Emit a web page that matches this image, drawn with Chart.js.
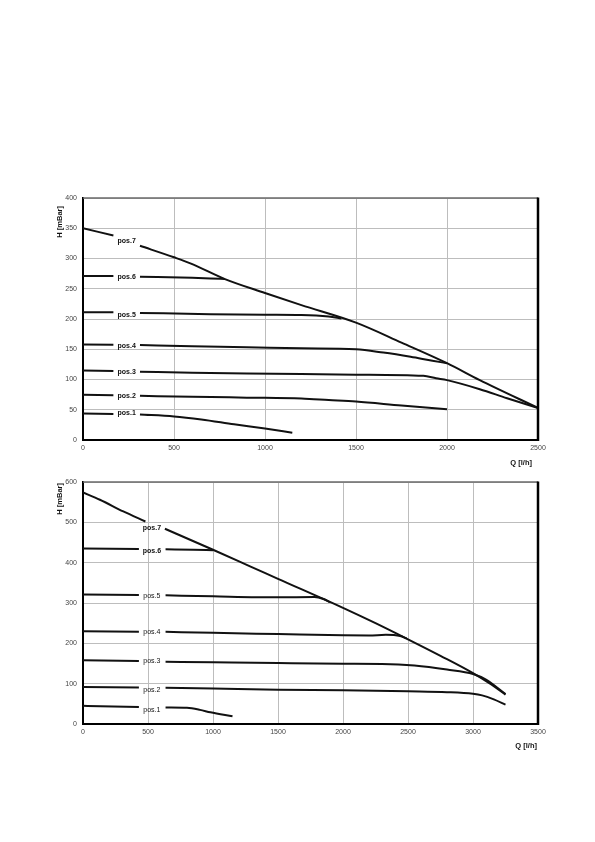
<!DOCTYPE html>
<html>
<head>
<meta charset="utf-8">
<script src="https://cdn.jsdelivr.net/npm/chart.js@4.4.0/dist/chart.umd.min.js"></script>
<style>
    body { margin: 0; background: #fff; width: 595px; height: 842px; position: relative; }
    .box { position: absolute; left: 40px; width: 540px; height: 290px; }
    #box1 { top: 185px; }
    #box2 { top: 469px; }
</style>
</head>
<body>
<div class="box" id="box1"><canvas id="chart1"></canvas></div>
<div class="box" id="box2"><canvas id="chart2"></canvas></div>
<script>
// curve names
var posNames = ['pos.1', 'pos.2', 'pos.3', 'pos.4', 'pos.5', 'pos.6', 'pos.7'];

// top chart: Q [l/h], H [mBar]
var topTicksQ = [0, 500, 1000, 1500, 2000, 2500];
var topTicksH = [0, 50, 100, 150, 200, 250, 300, 350, 400];
var topPos1 = [[0, 44], [167, 43], [313, 42], [500, 39], [650, 34], [830, 26], [1000, 19], [1150, 12]];
var topPos2 = [[0, 75], [167, 74], [313, 73], [600, 71.5], [900, 70], [1200, 68.5], [1350, 66], [1500, 63.5], [1750, 57], [2000, 51]];
var topPos3 = [[0, 115], [167, 114], [313, 113], [600, 111], [900, 110], [1200, 109], [1500, 108], [1870, 106], [1940, 102], [2000, 99], [2180, 84], [2330, 69], [2500, 53]];
var topPos4 = [[0, 158], [167, 157.5], [313, 157], [600, 155], [900, 153.5], [1200, 151.5], [1500, 150], [1650, 144.5], [1800, 137.5], [1920, 131], [2000, 127]];
var topPos5 = [[0, 211], [167, 211], [313, 210], [700, 208], [1000, 207], [1200, 206.5], [1350, 204], [1420, 201]];
var topPos6 = [[0, 271], [167, 271], [313, 270], [600, 268], [700, 267], [780, 266]];
var topPos7 = [[0, 350], [167, 338], [313, 321], [500, 302], [590, 292], [780, 266], [1000, 243], [1200, 223], [1500, 194], [1750, 161], [2000, 127], [2180, 99], [2500, 53]];
var topLabelH = [44, 73, 113, 156, 206, 269, 328];

// bottom chart
var botTicksQ = [0, 500, 1000, 1500, 2000, 2500, 3000, 3500];
var botTicksH = [0, 100, 200, 300, 400, 500, 600];
var botPos1 = [[0, 45], [430, 42], [635, 41], [800, 40], [900, 35], [980, 29], [1150, 19]];
var botPos2 = [[0, 92], [430, 90.5], [635, 90], [1000, 88], [1500, 85], [2000, 83.5], [2500, 81], [2800, 79], [3000, 75], [3070, 71], [3160, 61], [3250, 48]];
var botPos3 = [[0, 158], [430, 156], [635, 154.5], [1000, 153], [1500, 151], [2000, 149.5], [2300, 149], [2550, 145], [2800, 135], [3000, 124], [3100, 110], [3250, 74]];
var botPos4 = [[0, 230], [430, 229], [635, 228.5], [1000, 226], [1500, 223], [2000, 220], [2200, 219.5], [2330, 221], [2440, 218], [2490, 212]];
var botPos5 = [[0, 321], [430, 320], [635, 319], [1000, 316.5], [1500, 314], [1780, 315], [1850, 310], [1900, 302]];
var botPos6 = [[0, 435], [430, 434], [635, 433], [850, 432], [1000, 431]];
var botPos7 = [[0, 574], [130, 556], [310, 527], [480, 502], [630, 484], [1000, 432], [1285, 391], [1500, 360], [2000, 288], [2250, 250], [2500, 210], [2750, 169], [3000, 126], [3125, 101], [3250, 73]];
var botLabelH = [35.5, 83, 155, 227, 318, 428, 486];

Chart.defaults.font.family = '"Liberation Sans", Arial, sans-serif';
var FONT = '"Liberation Sans", Arial, sans-serif';

// line with a break where the label sits
function toData(pairs, gapQ) {
    var out = [];
    var gapDone = false;
    pairs.forEach(function(p) {
        if (!gapDone && p[0] > gapQ) {
            out.push({x: gapQ, y: null});
            gapDone = true;
        }
        out.push({x: p[0], y: p[1]});
    });
    return out;
}

function makeSets(series, labelH, gapQ, boldFrom) {
    return series.map(function(s, i) {
        return {
            label: posNames[i],
            data: toData(s, gapQ),
            labelH: labelH[i],
            labelBold: i >= boldFrom,
            borderColor: '#111',
            borderWidth: 2,
            pointRadius: 0,
            fill: false,
            spanGaps: false,
            cubicInterpolationMode: 'monotone'
        };
    });
}

var posLabels = {
    id: 'posLabels',
    afterDatasetsDraw: function(chart, args, opts) {
        var ctx = chart.ctx, a = chart.chartArea;
        var sx = chart.scales.x, sy = chart.scales.y;
        ctx.save();
        // frame top + right
        ctx.strokeStyle = '#6a6a6a';
        ctx.lineWidth = 1.5;
        ctx.beginPath(); ctx.moveTo(a.left, a.top); ctx.lineTo(a.right, a.top); ctx.stroke();
        ctx.strokeStyle = '#000';
        ctx.lineWidth = 2.5;
        ctx.beginPath(); ctx.moveTo(a.right, a.top - 0.5); ctx.lineTo(a.right, a.bottom + 1); ctx.stroke();

        // curve labels
        ctx.fillStyle = '#111';
        ctx.textAlign = 'center';
        ctx.textBaseline = 'middle';
        chart.data.datasets.forEach(function(ds) {
            ctx.font = (ds.labelBold ? 'bold ' : '') + '7px ' + FONT;
            ctx.fillText(ds.label, sx.getPixelForValue(opts.labelQ), sy.getPixelForValue(ds.labelH));
        });

        // axis titles
        ctx.font = 'bold 7.5px ' + FONT;
        ctx.textAlign = 'right';
        ctx.fillText('Q [l/h]', opts.qRight, opts.qY);
        ctx.translate(20, a.top + opts.hTop);
        ctx.rotate(-Math.PI / 2);
        ctx.fillText('H [mBar]', 0, 0);
        ctx.restore();
    }
};

function makeChart(id, sets, ticksQ, ticksH, labelQ, qRight, qY, hTop) {
    var ctx = document.getElementById(id).getContext('2d');
    return new Chart(ctx, {
        type: 'line',
        data: { datasets: sets },
        plugins: [posLabels],
        options: {
            maintainAspectRatio: false,
            animation: false,
            layout: { padding: { top: 13, right: 42, left: 0, bottom: 0 } },
            plugins: {
                legend: { display: false },
                tooltip: { enabled: false },
                posLabels: { labelQ: labelQ, qRight: qRight, qY: qY, hTop: hTop }
            },
            scales: {
                x: {
                    type: 'linear',
                    min: ticksQ[0],
                    max: ticksQ[ticksQ.length - 1],
                    afterBuildTicks: function(s) { s.ticks = ticksQ.map(function(v) { return {value: v}; }); },
                    afterFit: function(s) { s.height = 35; },
                    grid: { color: '#bdbdbd', lineWidth: 1, drawTicks: false },
                    border: { color: '#000', width: 2 },
                    ticks: { color: '#444', font: { size: 7 }, padding: 4, maxRotation: 0,
                             callback: function(v) { return String(v); } }
                },
                y: {
                    min: ticksH[0],
                    max: ticksH[ticksH.length - 1],
                    afterBuildTicks: function(s) { s.ticks = ticksH.map(function(v) { return {value: v}; }); },
                    afterFit: function(s) { s.width = 43; },
                    grid: { color: '#bdbdbd', lineWidth: 1, drawTicks: false },
                    border: { color: '#000', width: 2 },
                    ticks: { color: '#444', font: { size: 7 }, padding: 6,
                             callback: function(v) { return String(v); } }
                }
            }
        }
    });
}

// chart1
makeChart('chart1', makeSets([topPos1, topPos2, topPos3, topPos4, topPos5, topPos6, topPos7], topLabelH, 240, 0),
    topTicksQ, topTicksH, 240, 492, 278, 8);

// chart2
makeChart('chart2', makeSets([botPos1, botPos2, botPos3, botPos4, botPos5, botPos6, botPos7], botLabelH, 530, 5),
    botTicksQ, botTicksH, 530, 497, 277, 1);
</script>
</body>
</html>
